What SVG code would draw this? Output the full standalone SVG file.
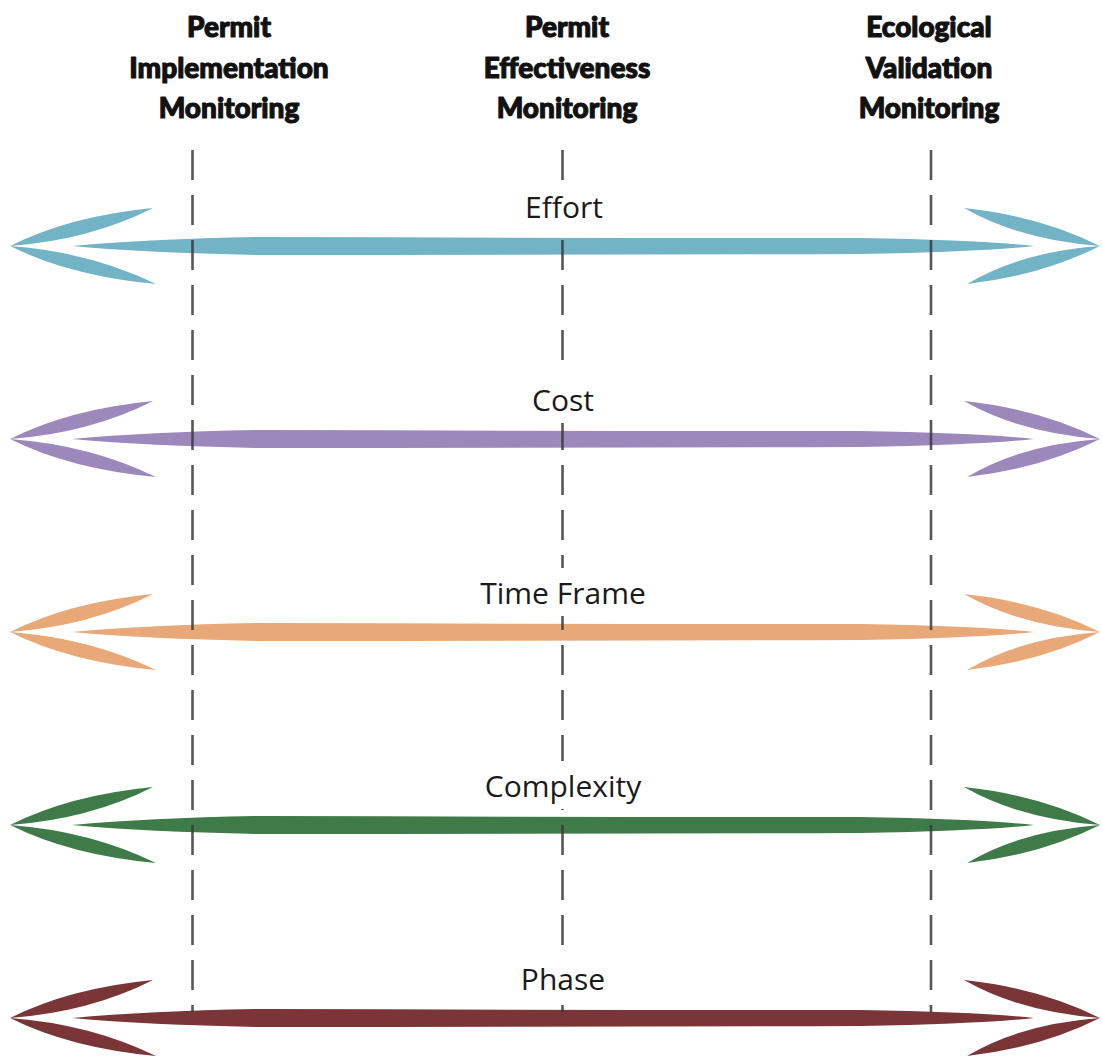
<svg xmlns="http://www.w3.org/2000/svg" xmlns:xlink="http://www.w3.org/1999/xlink" width="1102" height="1059" viewBox="0 0 1102 1059">
<style>
.hdr{font-family:Lato,"Open Sans","Liberation Sans",sans-serif;font-weight:900;font-size:28px;fill:#111;stroke:#111;stroke-width:1.1;stroke-linejoin:round;text-anchor:middle}
.lbl{font-family:"Open Sans","Liberation Sans",sans-serif;font-size:30px;fill:#1a1a1a;text-anchor:middle}
.dash{stroke:#3a3a3a;stroke-width:2.6;stroke-dasharray:30 15;fill:none;opacity:0.85}
.bg{fill:#fff}
</style>
<defs>
<g id="arrow">
<path d="M72,0 Q150,-7 260,-9 Q560,-8 860,-8 Q980,-6 1034,0 Q980,6 860,8 Q560,9 260,9 Q150,7 72,0 Z"/>
<path d="M10,0 Q70,-30 153,-38 Q90,-6 10,0 Z"/>
<path d="M10,0 Q70,30 156,38 Q90,6 10,0 Z"/>
<path d="M1100,0 Q1040,-30 964,-38 Q1020,-6 1100,0 Z"/>
<path d="M1100,0 Q1040,30 967,38 Q1020,6 1100,0 Z"/>
</g>
</defs>
<rect width="1102" height="1059" fill="#fff"/>
<g id="connectors">
<use xlink:href="#arrow" href="#arrow" y="246" fill="#72b4c6"/>
<use xlink:href="#arrow" href="#arrow" y="439" fill="#9c88bb"/>
<use xlink:href="#arrow" href="#arrow" y="632" fill="#e9a877"/>
<use xlink:href="#arrow" href="#arrow" y="825" fill="#3f7b49"/>
<use xlink:href="#arrow" href="#arrow" y="1018" fill="#7a3536"/>
<line class="dash" x1="192.5" y1="150" x2="192.5" y2="1012"/>
<line class="dash" x1="562.5" y1="150" x2="562.5" y2="1012"/>
<line class="dash" x1="931" y1="150" x2="931" y2="1012"/>
</g>
<g id="header-implementation">
<text class="hdr" x="229" y="37">Permit</text>
<text class="hdr" x="229" y="78">Implementation</text>
<text class="hdr" x="229" y="118">Monitoring</text>
</g>
<g id="header-effectiveness">
<text class="hdr" x="567" y="37">Permit</text>
<text class="hdr" x="567" y="78">Effectiveness</text>
<text class="hdr" x="567" y="118">Monitoring</text>
</g>
<g id="header-validation">
<text class="hdr" x="929" y="37">Ecological</text>
<text class="hdr" x="929" y="78">Validation</text>
<text class="hdr" x="929" y="118">Monitoring</text>
</g>
<g id="label-effort">
<rect class="bg" x="510" y="182" width="108" height="48"/>
<text class="lbl" x="564" y="218">Effort</text>
</g>
<g id="label-cost">
<rect class="bg" x="520" y="375" width="86" height="48"/>
<text class="lbl" x="563" y="411">Cost</text>
</g>
<g id="label-timeframe">
<rect class="bg" x="465" y="568" width="196" height="48"/>
<text class="lbl" x="563" y="604">Time Frame</text>
</g>
<g id="label-complexity">
<rect class="bg" x="470" y="761" width="186" height="48"/>
<text class="lbl" x="563" y="797">Complexity</text>
</g>
<g id="label-phase">
<rect class="bg" x="508" y="954" width="110" height="48"/>
<text class="lbl" x="563" y="990">Phase</text>
</g>
</svg>
